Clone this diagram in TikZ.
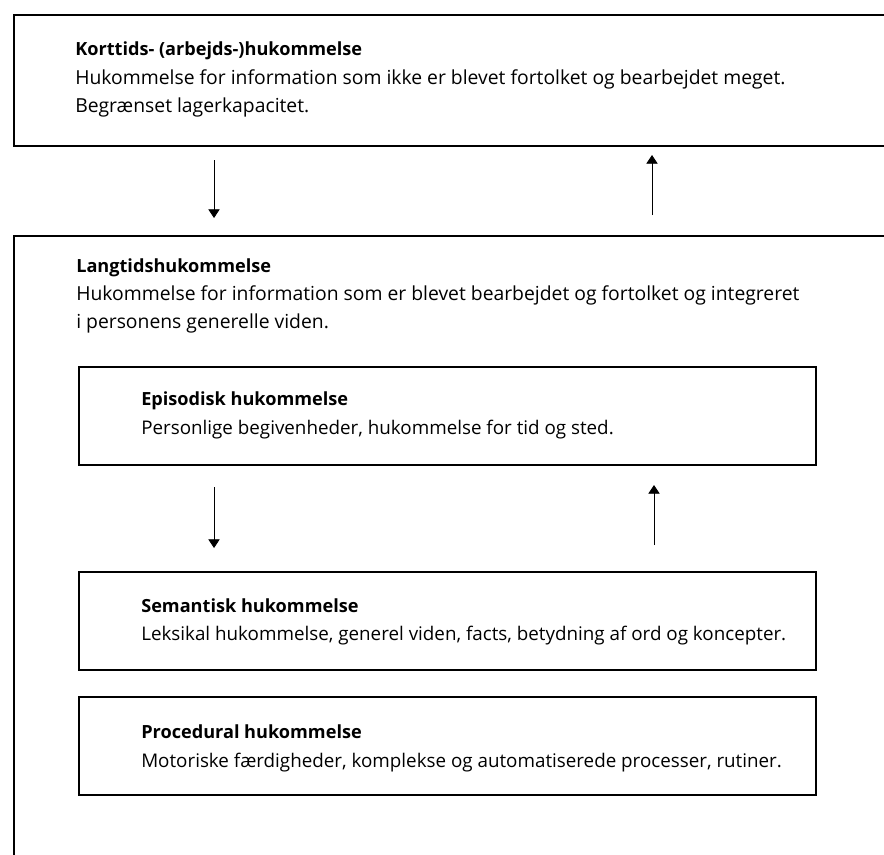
\documentclass[tikz,border=0pt]{standalone}
\usepackage{fontspec}
\setmainfont{Open Sans}
\usetikzlibrary{arrows.meta,positioning}
\tikzset{
  box/.style={draw, line width=1pt},
  txt/.style={anchor=base west, inner sep=0pt, font=\fontsize{14.5}{17}\selectfont},
  subtxt/.style={txt, font=\fontsize{14.1}{17}\selectfont},
  head/.style={txt, font=\fontsize{13.6}{17}\selectfont\bfseries},
  flow/.style={-{Triangle[width=8.5pt,length=6.5pt]}, line width=0.6pt}
}
\begin{document}
\begin{tikzpicture}[x=0.75pt, y=-0.75pt]
\useasboundingbox (0,0) rectangle (884,854);

\draw [box] (900,15) -- (14,15) -- (14,146) -- (900,146);
\draw [box] (900,236) -- (14,236) -- (14,870);
\foreach \t/\b in {367/465, 572/670, 697/795}{
\draw [box] (79,\t) rectangle (816,\b);
}

\node [head] (kort) at (75,55) {Korttids- (arbejds-)hukommelse};
\node [txt] (kort1) at (75,84) {Hukommelse for information som ikke er blevet fortolket og bearbejdet meget.};
\node [txt] (kort2) at (75,112) {Begrænset lagerkapacitet.};

\node [head] (lang) at (76,272) {Langtidshukommelse};
\node [txt] (lang1) at (76,300) {Hukommelse for information som er blevet bearbejdet og fortolket og integreret};
\node [txt] (lang2) at (76,328) {i personens generelle viden.};

\node [head] (epi) at (141,405) {Episodisk hukommelse};
\node [subtxt] (epi1) at (141,434) {Personlige begivenheder, hukommelse for tid og sted.};

\node [head] (sem) at (141,612) {Semantisk hukommelse};
\node [subtxt] (sem1) at (141,640) {Leksikal hukommelse, generel viden, facts, betydning af ord og koncepter.};

\node [head] (proc) at (141,738) {Procedural hukommelse};
\node [subtxt] (proc1) at (141,767) {Motoriske færdigheder, komplekse og automatiserede processer, rutiner.};

\coordinate (ned1) at (214,160);
\coordinate (ned2) at (214,218);
\coordinate (op1) at (652,215);
\coordinate (op2) at (652,155);
\coordinate (ned3) at (214,487);
\coordinate (ned4) at (214,548);
\coordinate (op3) at (654,545);
\coordinate (op4) at (654,485);
\draw [flow] (ned1) -- (ned2);
\draw [flow] (op1) -- (op2);
\draw [flow] (ned3) -- (ned4);
\draw [flow] (op3) -- (op4);
\end{tikzpicture}
\end{document}
